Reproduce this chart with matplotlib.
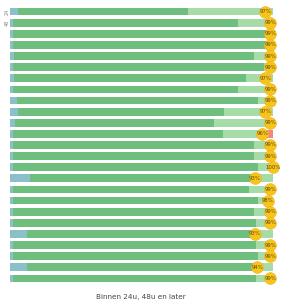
import matplotlib
matplotlib.use("Agg")
import matplotlib.pyplot as plt
import numpy as np

# ---- data (percent of each row) ----
rows = list(range(1, 26))
blue = [3, 1, 1, 1, 1.5, 1, 1.5, 1, 2.5, 3, 2, 1, 1, 1, 1, 7.6, 1, 1, 1, 1, 6.3, 1, 1, 6.3, 1]
dark = [64.7, 85.7, 96.3, 96.3, 91.3, 95.6, 88.2, 85.7, 91.8, 78.4, 75.6, 80, 91.8, 91.8, 93.3, 86.5,
        89.9, 93.3, 91.8, 92.5, 88.4, 92.5, 93.3, 86.5, 92.5]
later = [0, 0, 0, 0, 0, 0, 0, 0, 0, 0, 0, 3, 0, 0, 0, 0, 0, 0, 0, 0, 0, 0, 0, 0, 0]
pct = [97, 99, 99, 99, 99, 99, 97, 99, 99, 97, 99, 96, 99, 99, 100, 93,
       99, 98, 99, 99, 93, 99, 99, 94, 99]
light = [100 - b - d - l for b, d, l in zip(blue, dark, later)]
side_labels = ["24", "48"]
xlabel = "Binnen 24u, 48u en later"

C_BLUE = "#8cbfc9"
C_DARK = "#6ebe7e"
C_LIGHT = "#a6dca8"
C_LATER = "#ee8a80"
C_DOT = "#f7c51a"

fig = plt.figure(figsize=(2.82, 3.06), dpi=100)
ax = fig.add_axes([10 / 282, (306 - 284) / 306, 263 / 282, 278 / 306])

y = np.arange(len(rows))
h = 0.7
left = np.zeros(len(rows))
for vals, col in [(blue, C_BLUE), (dark, C_DARK), (light, C_LIGHT), (later, C_LATER)]:
    ax.barh(y, vals, left=left, height=h, color=col, edgecolor="none")
    left = left + np.array(vals)

ax.scatter(pct, y, s=72, color=C_DOT, edgecolor="#f2ad1c", linewidth=0.4, zorder=3, clip_on=False)
for yi, p in zip(y, pct):
    ax.text(p, yi, f"{p}%", ha="center", va="center", fontsize=3.9, color="#5a4a18", zorder=4,
            clip_on=False)

ax.set_xlim(0, 100)
ax.set_ylim(len(rows) - 0.5, -0.5)
ax.axis("off")

for yi, t in zip([0, 1], side_labels):
    fig.text(7 / 282, 1 - (12 + yi * 11) / 306, t, rotation=90, ha="center", va="center",
             fontsize=3.5, color="#888888")

fig.text(141 / 282, 1 - 297 / 306, xlabel, ha="center", va="center", fontsize=5.2, color="#444444")

fig.savefig("out.png", dpi=100, facecolor="white")
